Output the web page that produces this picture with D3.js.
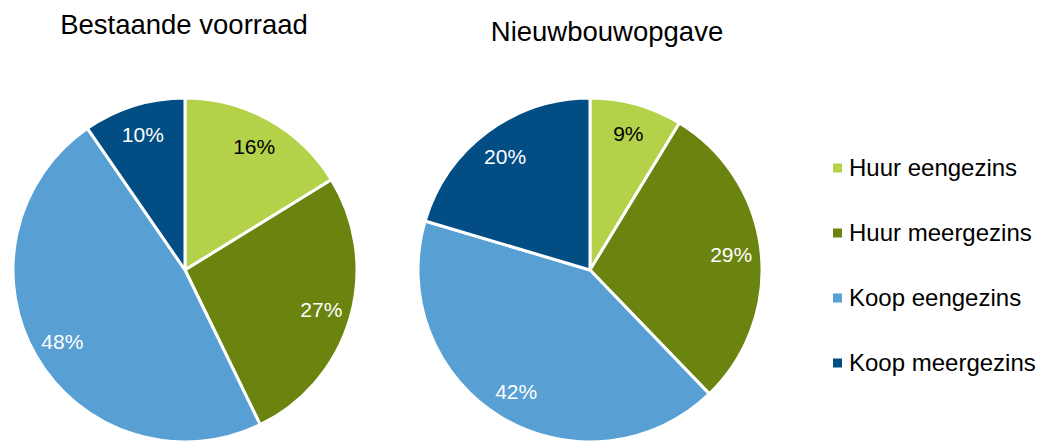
<!DOCTYPE html>
<html>
<head>
<meta charset="utf-8">
<script src="https://cdn.jsdelivr.net/npm/d3@7"></script>
<style>
  body { margin: 0; background: #fff; }
  text { font-family: "Liberation Sans", Arial, sans-serif; }
</style>
</head>
<body>
<div id="chart"></div>
<script>
var categories = ["Huur eengezins", "Huur meergezins", "Koop eengezins", "Koop meergezins"];
var colorsList = ["#b3d249", "#6a840f", "#58a0d3", "#024e84"];
var labelColors = ["#000", "#fff", "#fff", "#fff"];

var bestaandeValues = [16.2, 26.6, 47.6, 9.6];
var nieuwbouwValues = [8.7, 29.1, 41.8, 20.4];
var chartTitles = ["Bestaande voorraad", "Nieuwbouwopgave"];

var width = 1044,
    height = 441,
    radius = 172;

var svg = d3.select("#chart").append("svg")
    .attr("width", width)
    .attr("height", height);

var color = d3.scaleOrdinal()
    .domain(categories)
    .range(colorsList);

var pie = d3.pie()
    .sort(null)
    .value(function(d) { return d.value; });

var arc = d3.arc()
    .innerRadius(0)
    .outerRadius(radius);

var labelArc = d3.arc()
    .innerRadius(142)
    .outerRadius(142);

function drawPie(values, cx, cy, title, titleX, titleY) {
  var data = categories.map(function(c, i) { return {cat: c, value: values[i], idx: i}; });

  svg.append("text")
    .attr("x", titleX)
    .attr("y", titleY)
    .attr("text-anchor", "middle")
    .attr("font-size", 27.5)
    .attr("fill", "#000")
    .text(title);

  var g = svg.append("g")
    .attr("transform", "translate(" + cx + "," + cy + ")");

  var slices = g.selectAll(".slice")
    .data(pie(data))
    .enter().append("g")
    .attr("class", "slice");

  slices.append("path")
    .attr("d", arc)
    .style("fill", function(d) { return color(d.data.cat); })
    .style("stroke", "#fff")
    .style("stroke-width", "3px")
    .style("stroke-linejoin", "round");

  slices.append("text")
    .attr("transform", function(d) { return "translate(" + labelArc.centroid(d) + ")"; })
    .attr("text-anchor", "middle")
    .attr("dy", "0.36em")
    .attr("font-size", 21)
    .attr("fill", function(d) { return labelColors[d.data.idx]; })
    .text(function(d) { return Math.round(d.data.value) + "%"; });
}

drawPie(bestaandeValues, 185, 270, chartTitles[0], 184, 34);
drawPie(nieuwbouwValues, 590, 270, chartTitles[1], 607, 41);

// legend
var legend = svg.selectAll(".legend")
  .data(categories)
  .enter().append("g")
  .attr("class", "legend")
  .attr("transform", function(d, i) { return "translate(833," + (167.5 + i * 65) + ")"; });

legend.append("rect")
  .attr("x", 0)
  .attr("y", -4)
  .attr("width", 9)
  .attr("height", 9)
  .style("fill", function(d) { return color(d); });

legend.append("text")
  .attr("x", 16)
  .attr("y", 0)
  .attr("dy", "0.36em")
  .attr("font-size", 24)
  .attr("fill", "#000")
  .text(function(d) { return d; });
</script>
</body>
</html>
